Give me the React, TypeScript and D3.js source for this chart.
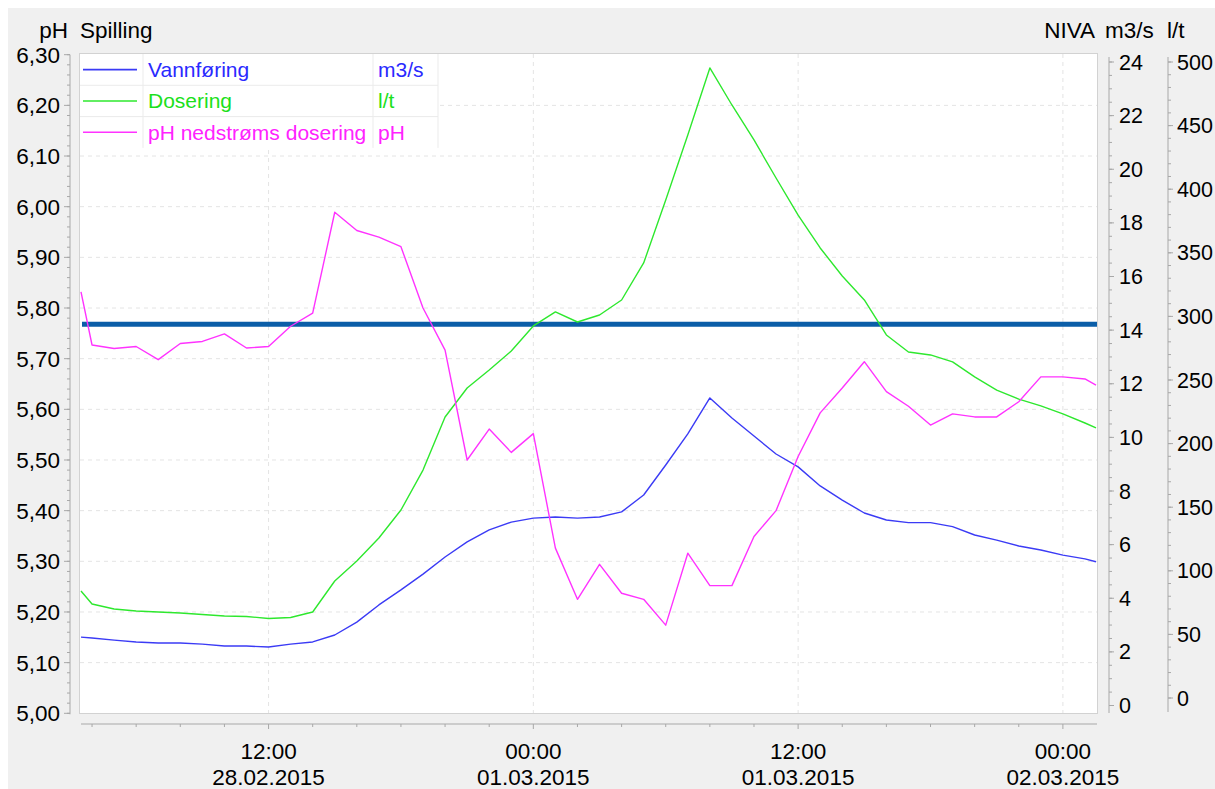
import { useEffect } from 'react';
import * as d3 from 'd3';

// hourly readings, 28.02.2015 03:30 -> 02.03.2015 01:30
const times = [
  '2015-02-28T03:30', '2015-02-28T04:00', '2015-02-28T05:00', '2015-02-28T06:00',
  '2015-02-28T07:00', '2015-02-28T08:00', '2015-02-28T09:00', '2015-02-28T10:00',
  '2015-02-28T11:00', '2015-02-28T12:00', '2015-02-28T13:00', '2015-02-28T14:00',
  '2015-02-28T15:00', '2015-02-28T16:00', '2015-02-28T17:00', '2015-02-28T18:00',
  '2015-02-28T19:00', '2015-02-28T20:00', '2015-02-28T21:00', '2015-02-28T22:00',
  '2015-02-28T23:00', '2015-03-01T00:00', '2015-03-01T01:00', '2015-03-01T02:00',
  '2015-03-01T03:00', '2015-03-01T04:00', '2015-03-01T05:00', '2015-03-01T06:00',
  '2015-03-01T07:00', '2015-03-01T08:00', '2015-03-01T09:00', '2015-03-01T10:00',
  '2015-03-01T11:00', '2015-03-01T12:00', '2015-03-01T13:00', '2015-03-01T14:00',
  '2015-03-01T15:00', '2015-03-01T16:00', '2015-03-01T17:00', '2015-03-01T18:00',
  '2015-03-01T19:00', '2015-03-01T20:00', '2015-03-01T21:00', '2015-03-01T22:00',
  '2015-03-01T23:00', '2015-03-02T00:00', '2015-03-02T01:00', '2015-03-02T01:30',
];

// Vannføring, m3/s
const vannforing = [
  2.55, 2.52, 2.44, 2.37, 2.33, 2.33, 2.29, 2.22, 2.22, 2.18, 2.29, 2.37,
  2.63, 3.11, 3.75, 4.31, 4.9, 5.54, 6.1, 6.55, 6.84, 6.99, 7.03, 6.99,
  7.03, 7.22, 7.85, 8.97, 10.13, 11.47, 10.72, 10.05, 9.38, 8.9, 8.19, 7.66,
  7.18, 6.92, 6.82, 6.82, 6.67, 6.36, 6.17, 5.95, 5.8, 5.61, 5.47, 5.36,
];

// Dosering, l/t
const dosering = [
  84.1, 73.9, 70.0, 68.4, 67.6, 66.8, 65.6, 64.5, 64.1, 62.5, 63.3, 67.6,
  92.0, 107.7, 125.8, 147.8, 179.2, 220.9, 243.7, 257.9, 272.8, 292.5, 303.5, 295.6,
  301.1, 312.9, 342.0, 391.5, 442.6, 495.3, 466.2, 438.7, 408.8, 379.7, 353.8, 331.8,
  312.9, 285.4, 272.0, 269.7, 264.2, 252.4, 242.1, 235.0, 229.6, 223.3, 216.2, 212.3,
];

// pH nedstrøms dosering
const phNedstroms = [
  5.832, 5.727, 5.72, 5.724, 5.698, 5.73, 5.734, 5.749, 5.721, 5.724, 5.764, 5.79,
  5.989, 5.953, 5.94, 5.921, 5.8, 5.717, 5.5, 5.561, 5.515, 5.552, 5.326, 5.225,
  5.294, 5.237, 5.225, 5.174, 5.316, 5.252, 5.252, 5.349, 5.4, 5.507, 5.593, 5.642,
  5.694, 5.635, 5.606, 5.569, 5.591, 5.585, 5.585, 5.615, 5.664, 5.664, 5.66, 5.648,
];

// Spilling marker (pH)
const spillingLevel = 5.768;

const seriesNames = ['Vannføring', 'Dosering', 'pH nedstrøms dosering'];
const seriesUnits = ['m3/s', 'l/t', 'pH'];
const lineColors = ['#3b3bf5', '#2ee82e', '#ff33ff'];
const textColors = ['#2a2aff', '#1be01b', '#ff22ff'];

const FONT = 'Liberation Sans, Arial, sans-serif';

export default function App() {
  useEffect(() => {
    document.documentElement.style.overflow = 'hidden';
  }, []);

  const W = 1215;
  const H = 789;
  const left = 81;
  const right = 1096;

  const parse = d3.timeParse('%Y-%m-%dT%H:%M');
  const dates = times.map((t) => parse(t)!);

  const x = d3.scaleTime().domain([dates[0], dates[dates.length - 1]]).range([left, right]);
  const yPh = d3.scaleLinear().domain([5, 6.3]).range([713.3, 54.7]);
  const yQ = d3.scaleLinear().domain([0, 24]).range([705.5, 62]);
  const yDos = d3.scaleLinear().domain([0, 500]).range([698, 62]);

  const mk = (vals: number[], y: d3.ScaleLinear<number, number>) =>
    d3
      .line<number>()
      .x((_, i) => x(dates[i]))
      .y((d) => y(d))(vals)!;

  const paths = [mk(vannforing, yQ), mk(dosering, yDos), mk(phNedstroms, yPh)];

  const phMajor = yPh.ticks(13);
  const phMinor = yPh.ticks(65);
  const qMajor = yQ.ticks(12);
  const qMinor = yQ.ticks(48);
  const dMajor = yDos.ticks(10);
  const dMinor = yDos.ticks(50);
  const xTicks = x.ticks(d3.timeHour.every(2)!);
  const xLabelTicks = xTicks.filter((d) => d.getHours() % 12 === 0);

  const fmtPh = (v: number) => d3.format('.2f')(v).replace('.', ',');
  const fmtTime = d3.timeFormat('%H:%M');
  const fmtDate = d3.timeFormat('%d.%m.%Y');

  const axisColor = '#a8a8a8';
  const gridColor = '#e4e4e4';
  const ySpill = yPh(spillingLevel);
  const xs0 = x(dates[0]) + 1;
  const xs1 = x(dates[dates.length - 1]) + 1;

  const legX = 80;
  const legY = 54;
  const rowH = 31.3;
  const legCols = [80, 143, 373, 438];

  return (
    <svg
      width={W}
      height={H}
      style={{ position: 'fixed', left: 0, top: 0, display: 'block' }}
      fontFamily={FONT}
    >
      <rect x={0} y={0} width={W} height={H} fill="#fff" />
      <rect x={8} y={8} width={W - 8} height={H - 8} fill="#f0f0f0" />
      <defs>
        <clipPath id="plotClip">
          <rect x={79.5} y={53.5} width={1018} height={660} />
        </clipPath>
        <filter id="shadow" x="-5%" y="-300%" width="110%" height="700%">
          <feGaussianBlur stdDeviation="1.6" />
        </filter>
      </defs>

      {/* title row */}
      <text x={68} y={38} fontSize={22.5} textAnchor="end">pH</text>
      <text x={80} y={38} fontSize={22.5}>Spilling</text>
      <text x={1095} y={38} fontSize={22.5} textAnchor="end">NIVA</text>
      <text x={1105} y={38} fontSize={22.5}>m3/s</text>
      <text x={1167} y={38} fontSize={22.5}>l/t</text>

      {/* plot panel */}
      <rect x={79.5} y={53.5} width={1018} height={660} fill="#fff" stroke="#d2d2d2" />

      {/* grid */}
      {phMajor
        .filter((v) => v > 5.001 && v < 6.299)
        .map((v) => (
          <line key={`gh${v}`} x1={80} x2={1097} y1={yPh(v)} y2={yPh(v)} stroke={gridColor} strokeDasharray="4 4" />
        ))}
      {xLabelTicks.map((d) => (
        <line key={`gv${+d}`} x1={x(d)} x2={x(d)} y1={54} y2={713} stroke={gridColor} strokeDasharray="4 4" />
      ))}

      {/* spilling marker and series */}
      <g clipPath="url(#plotClip)">
        <line x1={xs0} x2={xs1} y1={ySpill + 4} y2={ySpill + 4}
          stroke="#707070" strokeWidth={4} opacity={0.55} filter="url(#shadow)" />
        <line x1={xs0} x2={xs1} y1={ySpill} y2={ySpill} stroke="#0b5ea8" strokeWidth={5} />
        {paths.map((p, i) => (
          <path key={i} d={p} fill="none" stroke={lineColors[i]} strokeWidth={1.4} strokeLinejoin="round" />
        ))}
      </g>

      {/* legend */}
      <g>
        <rect x={legX} y={legY} width={legCols[3] - legX} height={rowH * 3} fill="#fff" />
        {seriesNames.map((name, i) => {
          const cy = legY + rowH * i + rowH / 2;
          return (
            <g key={name}>
              <line x1={83} x2={137} y1={cy} y2={cy} stroke={lineColors[i]} strokeWidth={1.6} />
              <text x={148} y={cy + 7.5} fontSize={21} fill={textColors[i]}>{name}</text>
              <text x={378} y={cy + 7.5} fontSize={21} fill={textColors[i]}>{seriesUnits[i]}</text>
              {i > 0 && (
                <line x1={legX} x2={legCols[3]} y1={legY + rowH * i} y2={legY + rowH * i} stroke="#ebebeb" />
              )}
            </g>
          );
        })}
        {legCols.slice(1).map((c) => (
          <line key={`lc${c}`} x1={c} x2={c} y1={legY} y2={legY + rowH * 3} stroke="#ebebeb" />
        ))}
      </g>

      {/* left pH axis */}
      <line x1={70} x2={70} y1={yPh(6.3)} y2={yPh(5) + 1} stroke={axisColor} />
      {phMinor.map((v) => (
        <line key={`pm${v}`} x1={67} x2={70} y1={yPh(v)} y2={yPh(v)} stroke={axisColor} />
      ))}
      {phMajor.map((v) => (
        <g key={`pM${v}`}>
          <line x1={64} x2={70} y1={yPh(v)} y2={yPh(v)} stroke={axisColor} />
          <text x={60} y={yPh(v)} dy="0.35em" fontSize={22.5} textAnchor="end">{fmtPh(v)}</text>
        </g>
      ))}

      {/* right m3/s axis */}
      <line x1={1109} x2={1109} y1={yQ(24) - 5} y2={713} stroke={axisColor} />
      {qMinor.map((v) => (
        <line key={`qm${v}`} x1={1109} x2={1112} y1={yQ(v)} y2={yQ(v)} stroke={axisColor} />
      ))}
      {qMajor.map((v) => (
        <g key={`qM${v}`}>
          <line x1={1109} x2={1114} y1={yQ(v)} y2={yQ(v)} stroke={axisColor} />
          <text x={1119} y={yQ(v)} dy="0.35em" fontSize={21.5}>{v}</text>
        </g>
      ))}

      {/* right l/t axis */}
      <line x1={1168} x2={1168} y1={yDos(500) - 5} y2={712} stroke={axisColor} />
      {dMinor.map((v) => (
        <line key={`dm${v}`} x1={1168} x2={1171} y1={yDos(v)} y2={yDos(v)} stroke={axisColor} />
      ))}
      {dMajor.map((v) => (
        <g key={`dM${v}`}>
          <line x1={1168} x2={1173} y1={yDos(v)} y2={yDos(v)} stroke={axisColor} />
          <text x={1177} y={yDos(v)} dy="0.35em" fontSize={21.5}>{v}</text>
        </g>
      ))}

      {/* time axis */}
      <line x1={81} x2={1097} y1={724} y2={724} stroke={axisColor} />
      {xTicks.map((d) => (
        <line key={`xt${+d}`} x1={x(d)} x2={x(d)} y1={724} y2={d.getHours() % 12 === 0 ? 729 : 727} stroke={axisColor} />
      ))}
      {xLabelTicks.map((d) => (
        <g key={`xl${+d}`}>
          <text x={x(d)} y={759} fontSize={22.5} textAnchor="middle">{fmtTime(d)}</text>
          <text x={x(d)} y={785} fontSize={22.5} textAnchor="middle">{fmtDate(d)}</text>
        </g>
      ))}
    </svg>
  );
}
